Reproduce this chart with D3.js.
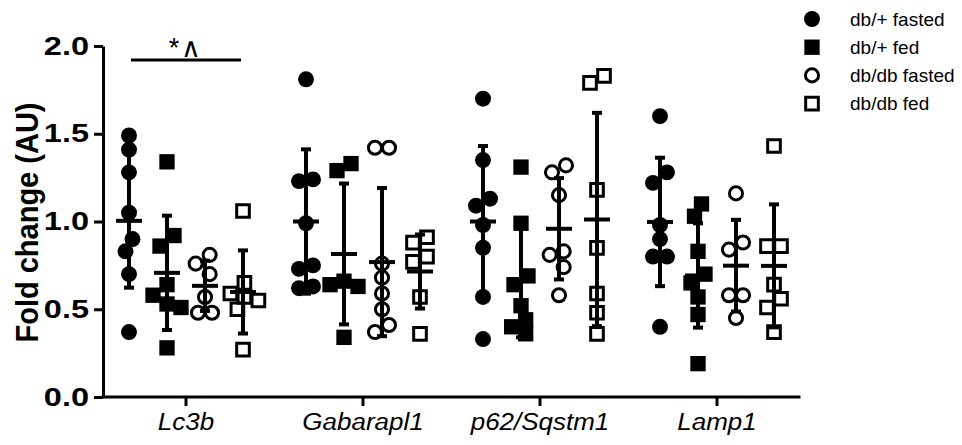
<!DOCTYPE html>
<meta charset="utf-8">
<style>
  body { margin: 0; background: #fff; }
  text { font-family: Arial, "Liberation Sans", sans-serif; fill: #000; }
  .axis path, .axis line { stroke: #000; stroke-width: 3px; }
  .axis text { font-size: 25px; font-weight: bold; }
  .xaxis text { font-weight: normal; font-style: italic; font-size: 23px; }
  .legend text { font-size: 19px; }
</style>
<script src="https://d3js.org/d3.v7.min.js"></script>

<svg width="962" height="445"></svg>

<script>
  // genes on the x axis, mouse groups in each gene
  var genes = ["Lc3b", "Gabarapl1", "p62/Sqstm1", "Lamp1"];
  var groups = ["db/+ fasted", "db/+ fed", "db/db fasted", "db/db fed"];
  var yTicks = [0, 0.5, 1.0, 1.5, 2.0];

  // fold change values, one list per group
  var lc3b = [
    [1.49, 1.41, 1.28, 1.05, 0.90, 0.83, 0.70, 0.37],
    [1.34, 0.92, 0.86, 0.64, 0.58, 0.53, 0.51, 0.28],
    [0.81, 0.76, 0.70, 0.57, 0.48, 0.48],
    [1.06, 0.65, 0.59, 0.57, 0.55, 0.50, 0.27]
  ];
  var gabarapl1 = [
    [1.81, 1.24, 1.23, 0.99, 0.75, 0.73, 0.63, 0.62],
    [1.33, 1.29, 0.66, 0.64, 0.63, 0.34],
    [1.42, 1.42, 0.76, 0.68, 0.59, 0.50, 0.41, 0.37],
    [0.91, 0.88, 0.80, 0.77, 0.57, 0.36]
  ];
  var p62 = [
    [1.70, 1.35, 1.13, 1.09, 0.98, 0.85, 0.57, 0.33],
    [1.31, 0.99, 0.69, 0.64, 0.52, 0.44, 0.40, 0.36],
    [1.32, 1.28, 1.15, 0.83, 0.81, 0.74, 0.58],
    [1.83, 1.79, 1.18, 0.85, 0.59, 0.48, 0.36]
  ];
  var lamp1 = [
    [1.60, 1.28, 1.22, 0.98, 0.90, 0.80, 0.80, 0.40],
    [1.10, 1.03, 0.83, 0.70, 0.65, 0.57, 0.47, 0.19],
    [1.16, 0.88, 0.84, 0.58, 0.58, 0.45],
    [1.43, 0.86, 0.86, 0.64, 0.56, 0.51, 0.37]
  ];
  var values = [lc3b, gabarapl1, p62, lamp1];

  var sigLabel = "*\u2227";

  var svg = d3.select("svg");
  var axisX = 103, baseY = 397, topY = 46;

  var y = d3.scaleLinear().domain([0, 2]).range([baseY, topY]);
  var x = d3.scaleBand().domain(genes).range([97.5, 805.5]);
  var xs = d3.scaleBand().domain(groups).range([12.5, 164.5]);

  var shapes = [
    { sym: d3.symbolCircle, fill: "#000", size: 200 },
    { sym: d3.symbolSquare, fill: "#000", size: 235 },
    { sym: d3.symbolCircle, fill: "none", size: 135 },
    { sym: d3.symbolSquare, fill: "none", size: 160 }
  ];

  // spread colliding points sideways, then centre each clump
  function spread(vals) {
    var pts = vals.map(function(v) { return { v: v, py: y(v), dx: 0 }; });
    pts.sort(function(a, b) { return a.py - b.py; });
    var step = 7, minD = 13;
    var placed = [];
    pts.forEach(function(p) {
      var cands = [0, -step, step, -2 * step, 2 * step];
      for (var i = 0; i < cands.length; i++) {
        var ok = placed.every(function(q) {
          var ddx = cands[i] - q.dx, ddy = p.py - q.py;
          return Math.sqrt(ddx * ddx + ddy * ddy) >= minD;
        });
        if (ok) { p.dx = cands[i]; break; }
      }
      placed.push(p);
    });
    var clump = [];
    function flush() {
      if (clump.length > 1) {
        var m = d3.mean(clump, function(q) { return q.dx; });
        clump.forEach(function(q) { q.dx -= m; });
      }
      clump = [];
    }
    pts.forEach(function(p, i) {
      if (i > 0 && p.py - pts[i - 1].py >= minD) flush();
      clump.push(p);
    });
    flush();
    return pts;
  }

  var plot = svg.append("g");

  genes.forEach(function(gene, gi) {
    groups.forEach(function(grp, si) {
      var vals = values[gi][si];
      var cx = x(gene) + xs(grp) + xs.bandwidth() / 2;
      var sh = shapes[si];
      var g = plot.append("g");

      g.selectAll("path.pt")
        .data(spread(vals))
        .enter().append("path")
        .attr("class", "pt")
        .attr("transform", function(d) { return "translate(" + (cx + d.dx) + "," + d.py + ")"; })
        .attr("d", d3.symbol().type(sh.sym).size(sh.size))
        .attr("fill", sh.fill)
        .attr("stroke", sh.fill === "none" ? "#000" : "none")
        .attr("stroke-width", 3);

      var m = d3.mean(vals), sd = d3.deviation(vals);
      g.append("line")
        .attr("x1", cx).attr("x2", cx)
        .attr("y1", y(m + sd)).attr("y2", y(m - sd))
        .attr("stroke", "#000").attr("stroke-width", 4);
      [m + sd, m - sd].forEach(function(v) {
        g.append("line")
          .attr("x1", cx - 5).attr("x2", cx + 5)
          .attr("y1", y(v)).attr("y2", y(v))
          .attr("stroke", "#000").attr("stroke-width", 4);
      });
      g.append("line")
        .attr("x1", cx - 13).attr("x2", cx + 13)
        .attr("y1", y(m)).attr("y2", y(m))
        .attr("stroke", "#000").attr("stroke-width", 4);
    });
  });

  // axes (labels in the original are drawn wide, so stretch them)
  var ya = svg.append("g")
    .attr("class", "axis")
    .attr("transform", "translate(" + axisX + ",0)")
    .call(d3.axisLeft(y).tickValues(yTicks).tickFormat(d3.format(".1f")).tickSize(9).tickSizeOuter(0).tickPadding(4));
  ya.selectAll(".tick text")
    .attr("x", -14 / 1.3)
    .attr("transform", "scale(1.3,1)");

  var xa = svg.append("g")
    .attr("class", "axis xaxis")
    .attr("transform", "translate(0," + baseY + ")")
    .call(d3.axisBottom(x).tickSize(9).tickSizeOuter(0).tickPadding(8));
  xa.select(".domain").remove();
  xa.selectAll(".tick text").attr("transform", "scale(1.13,1)");
  xa.append("line")
    .attr("x1", axisX - 1.5).attr("x2", x.range()[1] - 5)
    .attr("stroke", "#000").attr("stroke-width", 3);

  svg.append("text")
    .attr("transform", "translate(38," + ((y(0) + y(2)) / 2 + 1) + ") rotate(-90) scale(1,1.08)")
    .attr("text-anchor", "middle")
    .style("font-size", "29px").style("font-weight", "bold")
    .text("Fold change (AU)");

  // significance bar over Lc3b
  var sx1 = x("Lc3b") + xs(groups[0]) + xs.bandwidth() / 2;
  var sx2 = x("Lc3b") + xs(groups[3]) + xs.bandwidth() / 2;
  svg.append("line")
    .attr("x1", sx1 + 2).attr("x2", sx2 - 2)
    .attr("y1", y(1.92)).attr("y2", y(1.92))
    .attr("stroke", "#000").attr("stroke-width", 3);
  svg.append("text")
    .attr("x", (sx1 + sx2) / 2).attr("y", y(1.92) - 3)
    .attr("text-anchor", "middle")
    .style("font-size", "27px")
    .style("letter-spacing", "2px")
    .text(sigLabel);

  // legend
  var leg = svg.append("g").attr("class", "legend");
  groups.forEach(function(grp, i) {
    var ly = 19 + i * 28.2;
    var sh = shapes[i];
    leg.append("path")
      .attr("transform", "translate(812," + ly + ")")
      .attr("d", d3.symbol().type(sh.sym).size(sh.size))
      .attr("fill", sh.fill)
      .attr("stroke", sh.fill === "none" ? "#000" : "none")
      .attr("stroke-width", 3);
    leg.append("text")
      .attr("x", 850).attr("y", ly).attr("dy", "0.35em")
      .text(grp);
  });
</script>
